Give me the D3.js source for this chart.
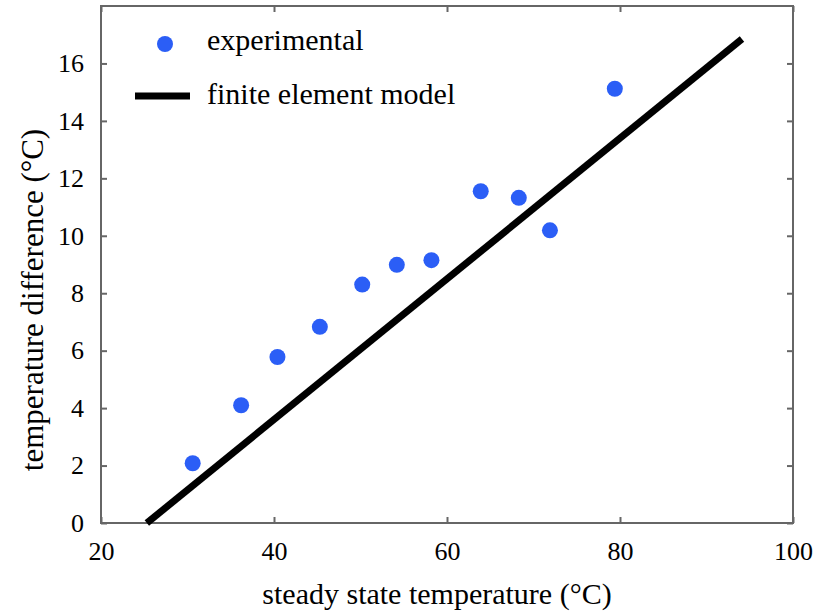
<!DOCTYPE html>
<html>
<head>
<meta charset="utf-8">
<script src="https://cdn.jsdelivr.net/npm/d3@7"></script>
<style>
  html, body { margin: 0; padding: 0; background: #fff; }
  svg text { font-family: "Liberation Serif", "Times New Roman", "DejaVu Serif", serif; fill: #000; }
</style>
</head>
<body>
<svg id="chart" width="813" height="613"></svg>
<script>
// ---- data ----
const expX = [30.6, 36.2, 40.4, 45.3, 50.2, 54.2, 58.2, 63.9, 68.3, 71.9, 79.4];
const expY = [2.08, 4.10, 5.78, 6.83, 8.30, 8.99, 9.15, 11.55, 11.32, 10.19, 15.12];
const modelX = [25.3, 94.1];
const modelY = [0, 16.85];
const xTicks = [20, 40, 60, 80, 100];
const yTicks = [0, 2, 4, 6, 8, 10, 12, 14, 16];
const legendLabels = ["experimental", "finite element model"];
const xLabel = "steady state temperature (°C)";
const yLabel = "temperature difference (°C)";

// ---- layout ----
const svg = d3.select("#chart");
const L = 101, R = 793, T = 6, B = 523;
const x = d3.scaleLinear().domain([20, 100]).range([L, R]);
const y = d3.scaleLinear().domain([0, 18]).range([B, T]);
const axisColor = "#666";
const dotColor = "#2b5ef6";
const serif = '"Liberation Serif", "Times New Roman", "DejaVu Serif", serif';

// frame
svg.append("rect").attr("x", L).attr("y", T).attr("width", R - L).attr("height", B - T)
  .attr("fill", "none").attr("stroke", axisColor).attr("stroke-width", 2);

// axes (ticks inside)
function styleAxis(g) {
  g.attr("font-family", serif);
  g.select(".domain").remove();
  g.selectAll(".tick line").attr("stroke", axisColor).attr("stroke-width", 2);
  g.selectAll(".tick text").attr("font-family", serif).style("font-size", "26px").attr("fill", "#000");
}
svg.append("g").attr("transform", `translate(0,${B})`)
  .call(d3.axisBottom(x).tickValues(xTicks).tickSizeInner(-6).tickSizeOuter(0).tickPadding(19))
  .call(styleAxis);
svg.append("g").attr("transform", `translate(0,${T})`)
  .call(d3.axisTop(x).tickValues(xTicks).tickSizeInner(-6).tickSizeOuter(0).tickFormat(""))
  .call(styleAxis);
svg.append("g").attr("transform", `translate(${L},0)`)
  .call(d3.axisLeft(y).tickValues(yTicks).tickSizeInner(-6).tickSizeOuter(0).tickPadding(17))
  .call(styleAxis);
svg.append("g").attr("transform", `translate(${R},0)`)
  .call(d3.axisRight(y).tickValues(yTicks).tickSizeInner(-6).tickSizeOuter(0).tickFormat(""))
  .call(styleAxis);

// model line
svg.append("path")
  .datum(modelX.map((v, i) => [v, modelY[i]]))
  .attr("d", d3.line().x(d => x(d[0])).y(d => y(d[1])))
  .attr("stroke", "#000").attr("stroke-width", 7).attr("fill", "none");

// experimental points
svg.append("g").selectAll("circle")
  .data(expX.map((v, i) => [v, expY[i]]))
  .join("circle")
  .attr("cx", d => x(d[0])).attr("cy", d => y(d[1])).attr("r", 8)
  .attr("fill", dotColor);

// legend
const lg = svg.append("g").attr("font-family", serif);
lg.append("circle").attr("cx", 165).attr("cy", 44).attr("r", 8).attr("fill", dotColor);
lg.append("line").attr("x1", 135).attr("x2", 190).attr("y1", 96).attr("y2", 96)
  .attr("stroke", "#000").attr("stroke-width", 7);
lg.append("text").attr("x", 207).attr("y", 50).style("font-size", "30px").text(legendLabels[0]);
lg.append("text").attr("x", 207).attr("y", 104).style("font-size", "30px").text(legendLabels[1]);

// axis labels
svg.append("text").attr("x", 437).attr("y", 604).attr("text-anchor", "middle")
  .attr("font-family", serif).style("font-size", "30px").text(xLabel);
svg.append("text").attr("transform", "translate(43,300) rotate(-90)").attr("text-anchor", "middle")
  .attr("font-family", serif).style("font-size", "31px").text(yLabel);
</script>
</body>
</html>
